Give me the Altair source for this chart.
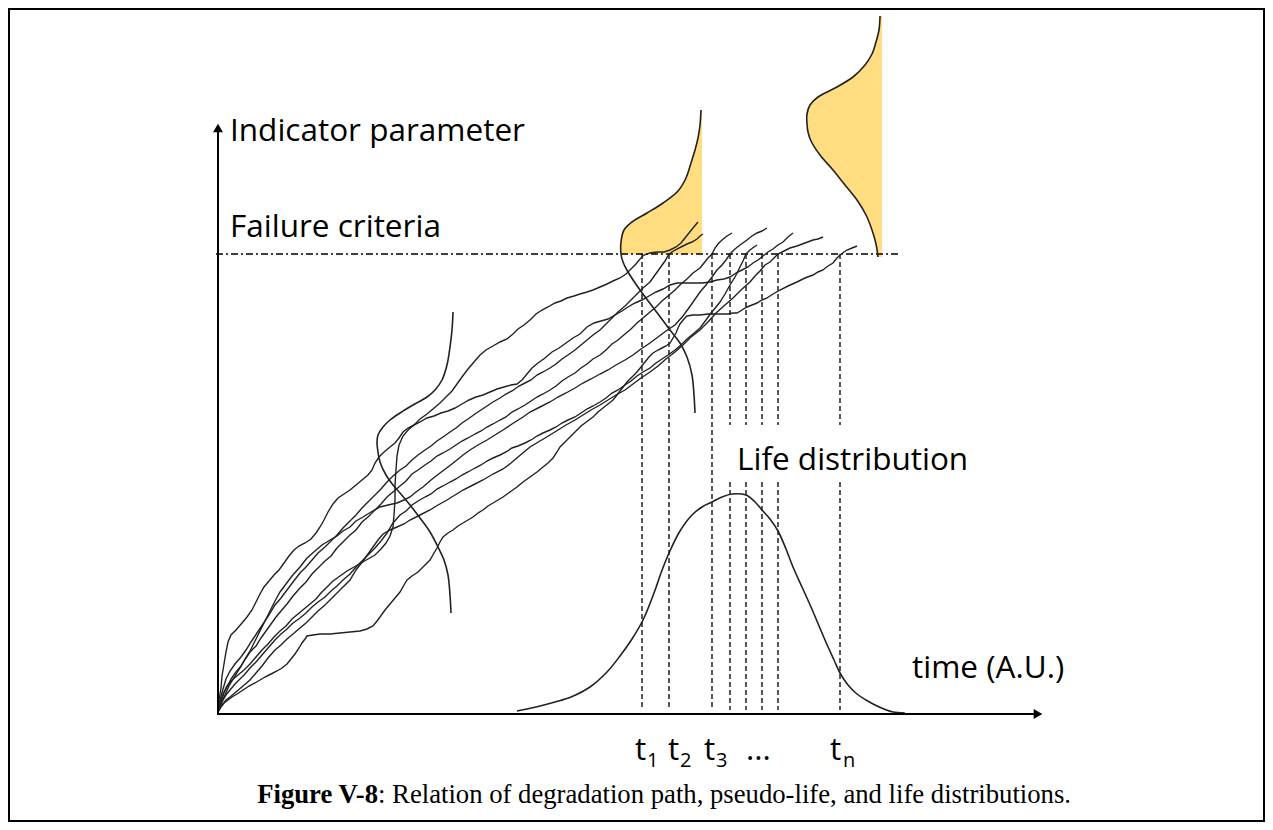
import altair as alt
import pandas as pd

# ---------- data (x = time axis units, y = indicator units; figure coordinates) ----------
PATH_A = [(218,712),(220,703),(223,694),(227,686),(232,680),(238,675),(244,670),(250,664),(256,657),(262,650),(268,644),(274,637),(280,631),(286,626),(292,619),(298,614),(304,609),(310,604),(316,599),(321,593),(327,587),(333,581),(340,576),(347,571),(354,567),(361,563),(368,559),(375,555),(381,549),(386,543),(390,536),(393,527),(394,515),(395,500),(395,485),(396,470),(397,456),(399,445),(403,436),(408,430),(414,425),(420,419),(427,414),(433,409),(440,403),(446,397),(452,391),(457,384),(462,377),(468,369),(474,362),(480,355),(486,350),(493,346),(500,342),(507,339),(513,334),(518,329),(524,325),(530,320),(536,314),(542,310),(548,307),(555,303),(561,301),(567,298),(574,296),(580,294),(587,292),(593,290),(600,287),(607,284),(613,281),(620,278),(626,274),(631,269),(636,264),(640,259),(644,255),(650,253),(657,252),(664,252),(670,250),(676,247),(681,243),(685,238),(689,233),(693,228),(698,222)]
PATH_B = [(218,712),(219,700),(221,688),(222,676),(224,664),(226,652),(228,642),(231,635),(236,630),(242,623),(247,617),(252,610),(256,602),(260,594),(264,587),(269,581),(274,575),(279,570),(284,563),(289,556),(294,550),(299,546),(305,543),(311,539),(316,533),(320,527),(324,520),(328,512),(333,504),(338,498),(344,494),(350,490),(356,485),(362,480),(368,475),(372,470),(375,463),(379,457),(384,452),(390,447),(395,443),(399,438),(403,432),(408,428),(414,425),(420,422),(427,418),(434,416),(441,413),(448,411),(455,408),(462,404),(469,400),(476,397),(483,395),(490,392),(497,389),(504,387),(511,385),(517,384),(522,380),(527,374),(532,368),(538,363),(545,358),(552,352),(559,348),(566,343),(573,338),(580,334),(587,327),(594,323),(601,321),(608,319),(615,315),(622,311),(628,307),(635,303),(642,300),(649,296),(656,292),(663,289),(670,285),(677,283),(690,283),(702,283),(710,282),(717,280),(724,279),(730,277),(736,273),(742,270),(748,267),(753,263),(758,260),(763,256),(768,252),(773,249),(778,245),(783,242),(788,237),(793,233)]
PATH_C = [(218,712),(220,700),(223,689),(226,679),(230,671),(235,664),(241,657),(246,650),(251,642),(257,633),(263,624),(269,615),(275,605),(281,598),(287,590),(293,582),(300,573),(306,567),(312,560),(318,553),(325,547),(331,541),(337,535),(343,528),(350,521),(356,515),(362,508),(368,502),(375,495),(381,489),(387,482),(393,476),(400,470),(406,466),(412,460),(418,455),(425,450),(431,446),(437,441),(443,437),(450,432),(456,428),(462,423),(468,419),(475,414),(481,410),(487,406),(493,402),(500,398),(506,394),(512,391),(519,386),(525,383),(531,380),(537,375),(543,372),(550,368),(556,364),(562,359),(568,355),(575,350),(581,345),(587,340),(593,335),(600,330),(606,324),(612,318),(618,312),(625,306),(631,300),(637,294),(643,288),(650,282),(655,275),(660,268),(665,261),(669,254),(675,250),(681,247),(687,244),(692,242),(697,239),(700,236),(703,234)]
PATH_D = [(218,712),(221,702),(224,693),(228,685),(231,679),(236,672),(241,666),(246,658),(250,652),(256,646),(261,638),(266,631),(271,624),(276,617),(281,611),(287,604),(293,596),(300,588),(306,582),(312,574),(318,568),(325,561),(331,556),(337,548),(343,542),(350,535),(356,530),(362,522),(368,517),(375,510),(381,504),(387,497),(393,492),(400,486),(406,481),(412,474),(418,470),(425,465),(431,461),(437,456),(443,453),(450,449),(456,445),(462,441),(468,438),(475,434),(481,431),(487,427),(493,424),(500,420),(506,417),(512,412),(518,409),(525,405),(531,401),(537,397),(543,394),(550,390),(556,386),(562,381),(568,377),(575,373),(581,368),(587,364),(593,359),(600,355),(606,350),(612,344),(618,340),(625,334),(631,329),(637,323),(643,318),(650,312),(656,307),(662,301),(668,296),(675,290),(681,284),(687,279),(693,273),(700,268),(704,263),(708,258),(712,254),(715,248),(718,244),(722,240),(727,236),(732,233)]
PATH_E = [(218,712),(221,703),(225,695),(229,686),(235,676),(240,668),(245,659),(250,651),(255,641),(260,631),(265,621),(270,611),(275,601),(280,592),(286,584),(292,576),(300,567),(307,558),(315,551),(322,545),(330,540),(337,536),(343,531),(350,527),(356,521),(363,517),(371,512),(380,507),(388,505),(397,503),(404,500),(410,497),(416,492),(423,487),(431,480),(440,473),(448,467),(457,460),(463,455),(470,450),(478,445),(487,440),(495,435),(503,430),(512,424),(523,417),(530,412),(540,407),(550,402),(558,397),(566,393),(575,388),(583,383),(591,379),(600,374),(608,370),(616,365),(625,360),(633,355),(641,349),(650,343),(658,337),(666,331),(675,325),(683,316),(691,305),(700,292),(706,285),(712,277),(717,270),(722,265),(726,260),(730,254),(735,249),(740,245),(747,240),(752,236),(757,233),(762,231),(767,228)]
PATH_F = [(218,712),(222,702),(226,695),(230,690),(235,684),(240,679),(245,674),(250,668),(256,662),(262,655),(268,648),(275,640),(281,634),(287,629),(293,623),(300,618),(306,613),(312,607),(318,602),(325,597),(331,591),(337,586),(343,580),(350,574),(356,567),(362,561),(368,555),(375,548),(381,541),(387,533),(393,523),(400,515),(406,511),(412,505),(418,501),(425,497),(431,494),(437,489),(443,486),(450,482),(456,479),(462,475),(468,472),(475,468),(481,465),(487,461),(493,458),(500,455),(506,452),(512,448),(518,446),(525,443),(531,440),(537,436),(543,433),(550,430),(556,427),(562,423),(568,420),(575,417),(581,413),(587,409),(593,406),(600,402),(606,398),(612,393),(618,390),(625,385),(631,381),(637,376),(643,372),(650,368),(656,363),(662,359),(668,355),(675,350),(681,345),(687,339),(693,334),(700,328),(706,320),(711,313),(716,307),(720,302),(725,294),(730,285),(735,277),(739,269),(743,261),(746,254),(750,250),(754,247),(757,245)]
PATH_G = [(218,712),(222,705),(226,700),(230,697),(236,692),(243,686),(250,680),(256,673),(262,666),(268,658),(275,650),(281,645),(287,639),(293,634),(300,628),(306,623),(312,617),(318,611),(325,605),(331,599),(337,593),(343,587),(350,580),(356,570),(363,561),(368,554),(373,547),(378,540),(383,534),(390,530),(397,527),(404,524),(410,520),(420,515),(430,510),(438,505),(447,500),(455,495),(463,490),(473,485),(483,480),(493,474),(503,469),(511,463),(518,457),(524,452),(530,447),(540,441),(550,435),(558,430),(566,425),(575,420),(583,415),(591,410),(600,405),(608,400),(616,395),(625,390),(633,384),(641,378),(650,372),(658,366),(666,359),(675,352),(683,345),(691,337),(700,330),(708,322),(716,313),(725,305),(733,298),(741,290),(750,282),(755,276),(760,271),(765,265),(770,262),(774,258),(778,254),(784,251),(790,248),(797,246),(805,243),(813,240),(818,239),(823,237)]
PATH_H = [(218,712),(221,707),(224,703),(228,700),(232,697),(237,694),(243,690),(249,686),(255,683),(260,680),(265,677),(271,674),(277,671),(282,668),(287,664),(291,659),(295,654),(299,648),(302,643),(305,639),(307,636),(313,635),(320,634),(330,634),(340,633),(350,632),(360,631),(367,629),(373,626),(377,621),(380,617),(385,610),(390,604),(395,598),(400,592),(404,585),(407,580),(412,576),(418,572),(424,566),(430,560),(434,553),(437,548),(440,542),(443,537),(448,533),(453,530),(458,526),(463,523),(468,520),(473,517),(478,513),(483,510),(488,506),(493,503),(498,500),(503,497),(510,492),(517,487),(523,482),(530,477),(537,472),(543,467),(548,463),(553,458),(557,452),(560,447),(565,442),(570,437),(574,433),(577,430),(581,426),(585,423),(589,420),(593,417),(598,412),(603,408),(608,404),(613,400),(617,395),(620,391),(624,386),(627,382),(632,377),(637,372),(641,367),(645,362),(649,357),(653,353),(658,350),(662,348),(666,346),(670,343),(673,338),(676,333),(678,328),(680,324),(684,319),(687,316),(693,315),(700,315),(708,314),(715,314),(722,314),(728,314),(733,313),(737,313),(742,310),(747,307),(752,305),(757,303),(762,300),(767,298),(773,294),(780,290),(788,286),(797,282),(805,278),(813,275),(818,272),(823,270),(828,266),(833,263),(837,258),(840,255),(844,252),(847,250),(852,248),(857,246)]

LEFT_DIST = [(453,312),(452,330),(450,347),(447,365),(442,380),(435,390),(427,397),(413,405),(400,413),(390,420),(383,427),(378,435),(377,443),(378,452),(380,462),(386,475),(393,485),(400,493),(410,505),(420,518),(430,532),(438,547),(444,560),(448,575),(450,595),(451,613)]
MID_DIST = [(701,110),(700,125),(698,138),(695,150),(691,163),(686,178),(678,191),(663,203),(647,213),(632,222),(624,230),(621,242),(621,254),(623,262),(628,272),(640,290),(655,310),(670,330),(680,343),(687,357),(692,375),(694,395),(695,413)]
RIGHT_DIST = [(880,16),(879,30),(876,42),(872,54),(865,65),(853,77),(835,88),(818,97),(810,105),(807,114),(807,124),(808,132),(811,141),(820,155),(833,170),(845,185),(857,200),(866,215),(872,230),(876,244),(878,257)]
LIFE_DIST = [(517,711),(536,707),(555,702),(571,697),(590,687),(607,672),(620,656),(632,639),(643,620),(654,593),(661,573),(669,553),(680,531),(692,515),(702,507),(712,502),(722,497),(732,494),(746,495),(755,502),(762,510),(770,519),(778,531),(786,549),(793,567),(802,587),(811,607),(825,640),(834,660),(840,673),(848,685),(857,694),(866,700),(875,705),(884,709),(893,712),(905,713)]

PSEUDO_LIFE_X = [642, 669, 712, 730, 746, 762, 778, 840]
FAILURE_Y = 254
MID_BASE_X = 702
RIGHT_BASE_X = 882

# ---------- build tables ----------
paths = {"A": PATH_A, "B": PATH_B, "C": PATH_C, "D": PATH_D, "E": PATH_E,
         "F": PATH_F, "G": PATH_G, "H": PATH_H}
rows = []
for pid, pts in paths.items():
    for i, (x, y) in enumerate(pts):
        rows.append({"pid": pid, "i": i, "x": x, "y": y})
path_df = pd.DataFrame(rows)

curves = {"left": LEFT_DIST, "mid": MID_DIST, "right": RIGHT_DIST, "life": LIFE_DIST}
crow = []
for pid, pts in curves.items():
    for i, (x, y) in enumerate(pts):
        crow.append({"pid": pid, "i": i, "x": x, "y": y})
curve_df = pd.DataFrame(crow)

fill_rows = []
for x, y in MID_DIST:
    if y <= FAILURE_Y:
        fill_rows.append({"pid": "mid", "x": x, "x2": MID_BASE_X, "y": y})
for x, y in RIGHT_DIST:
    fill_rows.append({"pid": "right", "x": x, "x2": RIGHT_BASE_X, "y": y})
fill_df = pd.DataFrame(fill_rows)

dash_rows = []
for x in PSEUDO_LIFE_X:
    if x >= 730:
        dash_rows.append({"x": x, "y": FAILURE_Y, "y2": 425})
        dash_rows.append({"x": x, "y": 482, "y2": 710})
    else:
        dash_rows.append({"x": x, "y": FAILURE_Y, "y2": 710})
dash_df = pd.DataFrame(dash_rows)

XS = alt.Scale(domain=[8, 1265], nice=False, zero=False)
YS = alt.Scale(domain=[8, 822], nice=False, zero=False, reverse=True)

def X(f="x"):
    return alt.X(f"{f}:Q", scale=XS, axis=None)

def Y(f="y"):
    return alt.Y(f"{f}:Q", scale=YS, axis=None)

FONT = "Open Sans"

border = alt.Chart(pd.DataFrame({"x": [9], "x2": [1264], "y": [9], "y2": [821]})).mark_rect(
    fill=None, stroke="black", strokeWidth=2).encode(x=X(), x2="x2:Q", y=Y(), y2="y2:Q")

fills = alt.Chart(fill_df).mark_area(orient="horizontal", color="#FFDD80", opacity=1,
                                     interpolate="monotone").encode(
    y=Y(), x=X(), x2="x2:Q", detail="pid:N")

failure = alt.Chart(pd.DataFrame({"x": [216], "x2": [900], "y": [FAILURE_Y]})).mark_rule(
    color="black", strokeWidth=1.3, strokeDash=[7, 3, 2, 3]).encode(x=X(), x2="x2:Q", y=Y())

dashes = alt.Chart(dash_df).mark_rule(color="black", strokeWidth=1.3, strokeDash=[5, 3]).encode(
    x=X(), y=Y(), y2="y2:Q")

lines = alt.Chart(path_df).mark_line(color="#222222", strokeWidth=1.4).encode(
    x=X(), y=Y(), detail="pid:N", order="i:Q")

dist = alt.Chart(curve_df).mark_line(color="#222222", strokeWidth=1.6,
                                      interpolate="catmull-rom").encode(
    x=X(), y=Y(), detail="pid:N", order="i:Q")

yaxis = alt.Chart(pd.DataFrame({"x": [218], "y": [714], "y2": [130]})).mark_rule(
    color="black", strokeWidth=2).encode(x=X(), y=Y(), y2="y2:Q")
xaxis = alt.Chart(pd.DataFrame({"x": [217], "x2": [1036], "y": [714]})).mark_rule(
    color="black", strokeWidth=2).encode(x=X(), x2="x2:Q", y=Y())
arrow_up = alt.Chart(pd.DataFrame({"x": [218], "y": [128]})).mark_point(
    shape="triangle-up", filled=True, size=100, color="black", opacity=1).encode(x=X(), y=Y())
arrow_right = alt.Chart(pd.DataFrame({"x": [1038], "y": [714]})).mark_point(
    shape="triangle-right", filled=True, size=100, color="black", opacity=1).encode(x=X(), y=Y())

labels = pd.DataFrame({
    "text": ["Indicator parameter", "Failure criteria", "Life distribution", "time (A.U.)",
             "t", "t", "t", "...", "t"],
    "x": [230, 230, 737, 912, 635, 668, 704, 746, 830],
    "y": [141, 237, 470, 678, 760, 760, 760, 760, 760],
})
label_mk = alt.Chart(labels).mark_text(font=FONT, fontSize=31.5, align="left", baseline="alphabetic",
                                        color="black").encode(x=X(), y=Y(), text="text:N")
subs = pd.DataFrame({"text": ["1", "2", "3", "n"], "x": [647, 680, 716, 843], "y": [767, 767, 767, 767]})
sub_mk = alt.Chart(subs).mark_text(font=FONT, fontSize=20, align="left", baseline="alphabetic",
                                    color="black").encode(x=X(), y=Y(), text="text:N")

cap_bold = alt.Chart(pd.DataFrame({"text": ["Figure V-8"], "x": [378], "y": [803]})).mark_text(
    font="Liberation Serif", fontSize=26.7, fontWeight="bold", align="right", baseline="alphabetic",
    color="black").encode(x=X(), y=Y(), text="text:N")
cap_rest = alt.Chart(pd.DataFrame({"text": [": Relation of degradation path, pseudo-life, and life distributions."],
                                   "x": [378], "y": [803]})).mark_text(
    font="Liberation Serif", fontSize=26.7, align="left", baseline="alphabetic",
    color="black").encode(x=X(), y=Y(), text="text:N")

chart = alt.layer(
    border, fills, failure, dashes, lines, dist, yaxis, xaxis, arrow_up, arrow_right,
    label_mk, sub_mk, cap_bold, cap_rest
).properties(width=1257, height=814, padding=0, autosize=alt.AutoSizeParams(type="none")
).configure_view(stroke=None)

chart.save("out.html", embed_options={"renderer": "svg", "actions": False})
